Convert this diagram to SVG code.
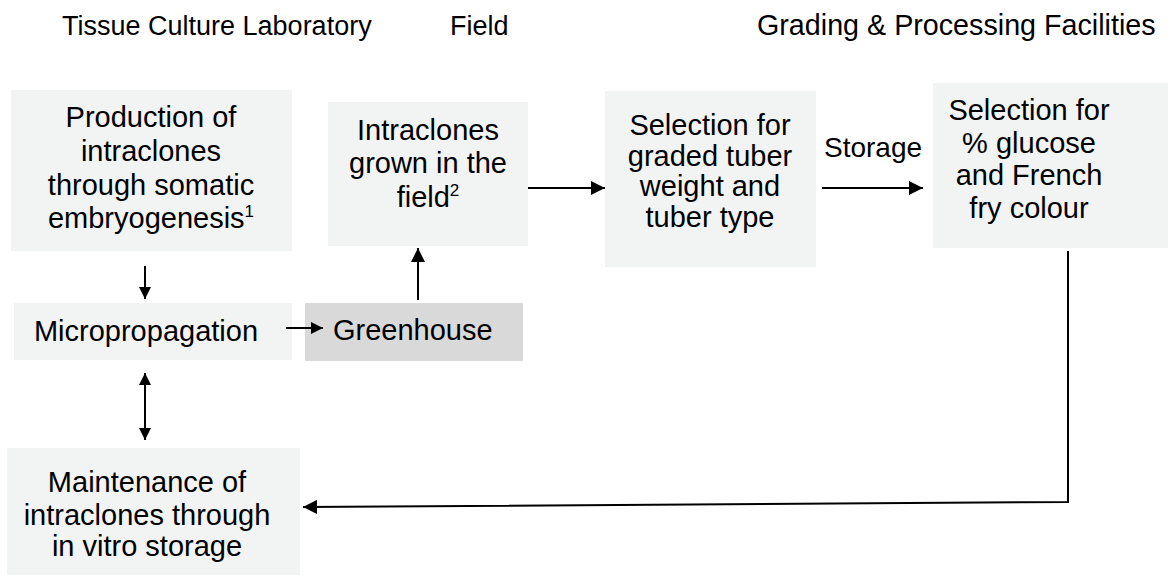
<svg xmlns="http://www.w3.org/2000/svg" width="1176" height="577" viewBox="0 0 1176 577">
<defs>
<style>
.t{font-family:"Liberation Sans",Arial,sans-serif;fill:#000;}
.title{font-size:27px;}
.lbl{font-size:29px;text-anchor:middle;}
.box{fill:#f2f3f3;}
.gh{fill:#d9d9d9;}
.c{stroke:#000;stroke-width:2;fill:none;}
</style>
<marker id="ah" markerUnits="userSpaceOnUse" markerWidth="15" markerHeight="14" refX="14" refY="7" orient="auto-start-reverse">
<path d="M0,0 L14,7 L0,14 z" fill="#000"/>
</marker>
<marker id="ahs" markerUnits="userSpaceOnUse" markerWidth="13" markerHeight="12" refX="12" refY="6" orient="auto-start-reverse">
<path d="M0,0 L12,6 L0,12 z" fill="#000"/>
</marker>
</defs>
<g id="titles">
<text class="t title" x="62" y="35">Tissue Culture Laboratory</text>
<text class="t title" x="450" y="35">Field</text>
<text class="t title" x="757" y="35" style="font-size:28.7px">Grading &amp; Processing Facilities</text>
</g>
<g id="production">
<rect class="box" x="11" y="90" width="281" height="161"/>
<text class="t lbl" x="151" y="127">Production of</text>
<text class="t lbl" x="151" y="161">intraclones</text>
<text class="t lbl" x="151" y="195">through somatic</text>
<text class="t lbl" x="151" y="228">embryogenesis<tspan font-size="17" dy="-11">1</tspan></text>
</g>
<g id="field">
<rect class="box" x="328" y="102" width="200" height="144"/>
<text class="t lbl" x="428" y="139.5">Intraclones</text>
<text class="t lbl" x="428" y="173">grown in the</text>
<text class="t lbl" x="428" y="206.5">field<tspan font-size="17" dy="-11">2</tspan></text>
</g>
<g id="grading">
<rect class="box" x="605" y="91" width="211" height="176"/>
<text class="t lbl" x="710" y="135">Selection for</text>
<text class="t lbl" x="710" y="165.5">graded tuber</text>
<text class="t lbl" x="710" y="196">weight and</text>
<text class="t lbl" x="710" y="226.5">tuber type</text>
</g>
<g id="glucose">
<rect class="box" x="933" y="83" width="235" height="165"/>
<text class="t lbl" x="1029" y="120">Selection for</text>
<text class="t lbl" x="1029" y="152.5">% glucose</text>
<text class="t lbl" x="1029" y="185">and French</text>
<text class="t lbl" x="1029" y="218">fry colour</text>
</g>
<g id="micropropagation">
<rect class="box" x="14" y="303" width="278" height="57"/>
<text class="t lbl" x="146" y="341">Micropropagation</text>
</g>
<g id="greenhouse">
<rect class="gh" x="305" y="303" width="218" height="58"/>
<text class="t" font-size="29" x="333" y="339.5">Greenhouse</text>
</g>
<g id="maintenance">
<rect class="box" x="7" y="448" width="293" height="127"/>
<text class="t lbl" x="147" y="492">Maintenance of</text>
<text class="t lbl" x="147" y="525">intraclones through</text>
<text class="t lbl" x="147" y="556">in vitro storage</text>
</g>
<g id="connectors">
<line class="c" x1="145" y1="266" x2="145" y2="299" marker-end="url(#ahs)"/>
<line class="c" x1="145" y1="373" x2="145" y2="440" marker-start="url(#ahs)" marker-end="url(#ahs)"/>
<line class="c" x1="286" y1="328" x2="323" y2="328" marker-end="url(#ahs)"/>
<line class="c" x1="418" y1="300" x2="418" y2="248" marker-end="url(#ah)"/>
<line class="c" x1="528" y1="188" x2="605" y2="188" marker-end="url(#ah)"/>
<line class="c" x1="822" y1="188" x2="923" y2="188" marker-end="url(#ah)"/>
<path class="c" d="M1068,251 L1068,502 L303,507" marker-end="url(#ah)"/>
<text class="t" font-size="28" x="873" y="157" text-anchor="middle">Storage</text>
</g>
</svg>
